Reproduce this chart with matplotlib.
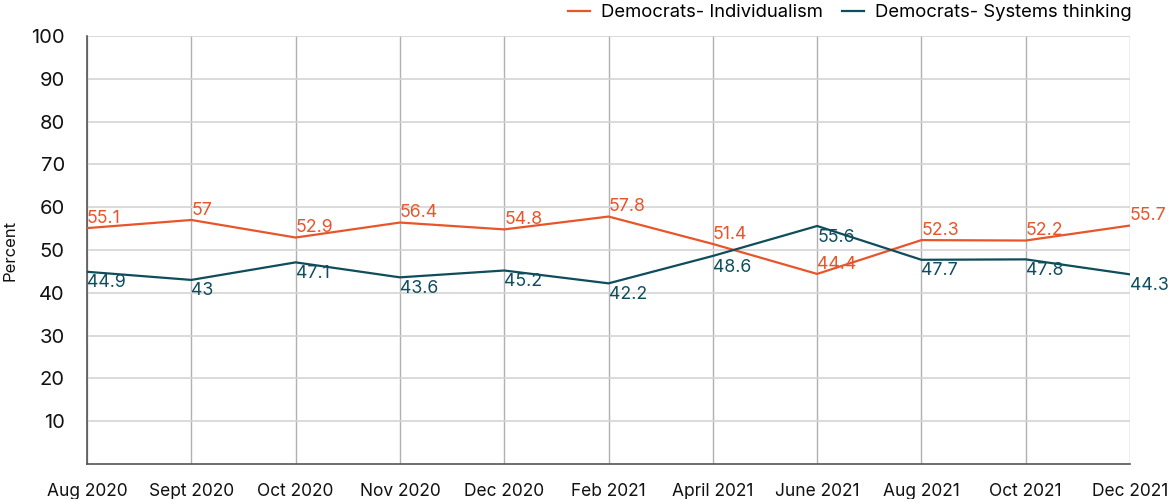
import matplotlib
matplotlib.use("Agg")
import matplotlib.pyplot as plt

plt.rcParams['font.family'] = ['Inter', 'DejaVu Sans']

months = ["Aug 2020", "Sept 2020", "Oct 2020", "Nov 2020", "Dec 2020", "Feb 2021",
          "April 2021", "June 2021", "Aug 2021", "Oct 2021", "Dec 2021"]
individualism = [55.1, 57, 52.9, 56.4, 54.8, 57.8, 51.4, 44.4, 52.3, 52.2, 55.7]
systems = [44.9, 43, 47.1, 43.6, 45.2, 42.2, 48.6, 55.6, 47.7, 47.8, 44.3]
yticks = [10, 20, 30, 40, 50, 60, 70, 80, 90, 100]

c_ind = "#E8552A"
c_sys = "#0E4D5C"

fig = plt.figure(figsize=(11.68, 4.99), dpi=100)
ax = fig.add_axes([0.0745, 0.0701, 0.893, 0.858])

x = list(range(len(months)))
ax.plot(x, individualism, color=c_ind, lw=1.6, label="Democrats- Individualism", zorder=3)
ax.plot(x, systems, color=c_sys, lw=1.6, label="Democrats- Systems thinking", zorder=3)

for xi, v in zip(x, individualism):
    ax.text(xi, v + 0.3, f"{v:g}", color=c_ind, fontsize=12.8, ha="left", va="bottom", zorder=4)
for xi, v in zip(x, systems):
    ax.text(xi, v - 0.6, f"{v:g}", color=c_sys, fontsize=12.8, ha="left", va="top", zorder=4)

ax.set_xlim(0, len(months) - 1)
ax.set_ylim(0, 100)
ax.set_yticks(yticks)
ax.set_xticks(x)
ax.set_xticklabels(months)
ax.grid(axis="y", color="#d4d4d4", lw=1.2)
ax.grid(axis="x", color="#b0b0b0", lw=1.0)
ax.set_axisbelow(True)
for s in ["top", "right"]:
    ax.spines[s].set_visible(False)
for s in ["left", "bottom"]:
    ax.spines[s].set_color("#555555")
    ax.spines[s].set_linewidth(1.2)
ax.tick_params(axis="both", length=0, colors="#111111")
ax.tick_params(axis="y", pad=16, labelsize=14.5)
ax.tick_params(axis="x", pad=14, labelsize=12.5)
ax.set_ylabel("Percent", fontsize=12, color="#111111", labelpad=10)

leg = fig.legend(loc="upper right", bbox_to_anchor=(0.983, 1.025), ncol=2, frameon=False,
                 fontsize=13.3, handlelength=1.2, columnspacing=1.0, handletextpad=0.6)

fig.savefig("out.png", dpi=100)
